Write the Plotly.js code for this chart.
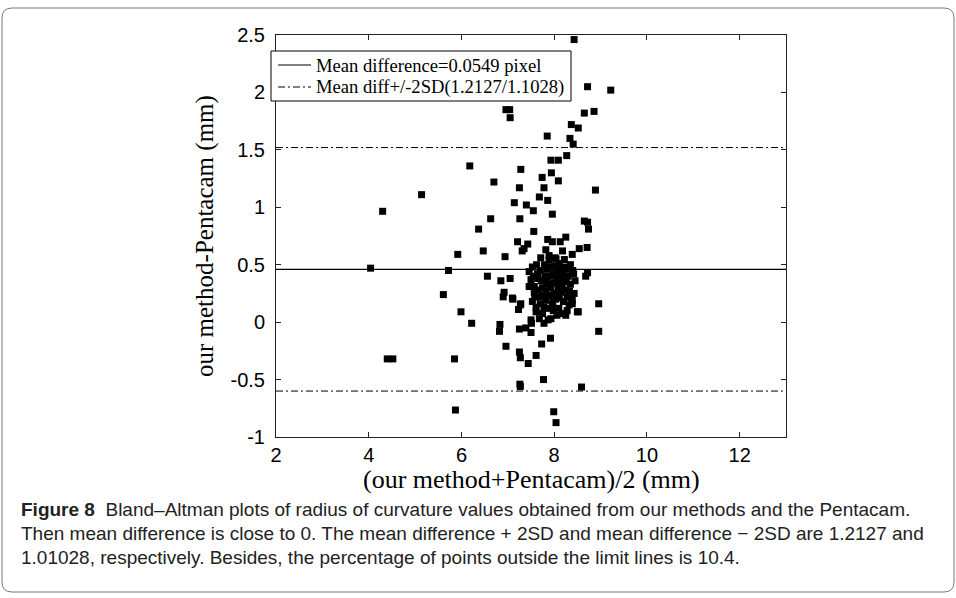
<!DOCTYPE html>
<html>
<head>
<meta charset="utf-8">
<script src="https://cdn.plot.ly/plotly-3.0.1.min.js"></script>
<style>
html,body{margin:0;padding:0;background:#fff;}
#chart{width:956px;height:598px;}
</style>
</head>
<body>
<div id="chart"></div>
<script>
// ---- data ----
const avgX = [
  8.43,8.72,9.22,6.96,7.04,7.05,8.65,8.86,8.37,8.52,7.85,8.34,8.41,
  8.27,7.93,8.09,6.18,7.28,7.94,7.74,6.70,8.09,7.25,7.78,8.89,5.14,7.68,7.86,7.14,7.40,7.55,4.30,7.96,6.63,7.26,8.65,8.72,
  6.37,8.74,7.56,7.21,7.86,7.96,8.13,8.25,7.43,7.35,7.31,5.92,6.47,6.94,8.71,8.54,8.39,8.18,7.82,7.71,7.89,8.04,8.22,
  4.04,5.72,5.61,6.56,6.85,7.05,8.68,8.72,
  6.92,6.90,7.11,7.27,7.23,5.99,6.22,6.83,6.82,7.25,6.96,7.25,7.27,7.44,7.61,7.73,7.92,7.26,7.27,7.77,8.59,5.85,4.40,4.52,5.87,7.99,8.04,8.96,8.96,
  7.50,7.51,7.39,7.50,7.68,7.87,7.78,7.93,8.18,8.25,8.52,8.43,8.39,7.10,7.28,
  7.53,7.46,7.64,7.50,7.57,7.46,7.57,7.53,7.61,7.61,7.75,7.78,7.82,7.96,7.89,8.11,8.32,8.39,8.50,7.89,8.11,7.89,8.02,
  7.70,7.80,7.85,7.92,7.98,8.05,8.08,8.15,8.20,8.25,8.30,8.35,8.40,7.75,7.68,7.95,8.00,8.15,8.28,7.72,
  7.62,8.05,8.22,8.35,7.82,7.98,8.10,8.20,8.12,7.65,7.55,8.33,8.45,8.42,7.90,7.70,8.00,7.84,8.28,8.06,
  7.76,7.88,8.03,8.17,8.26,7.66,7.94,8.10,8.36,7.79,8.02,8.19,7.58,8.30,7.97,8.13
];
const diffY = [
  2.46,2.05,2.02,1.85,1.85,1.78,1.82,1.835,1.72,1.69,1.62,1.60,1.55,
  1.45,1.41,1.41,1.36,1.33,1.30,1.26,1.22,1.23,1.17,1.17,1.15,1.11,1.09,1.06,1.04,1.02,0.97,0.965,0.94,0.90,0.90,0.88,0.87,
  0.81,0.81,0.79,0.70,0.72,0.70,0.70,0.74,0.68,0.64,0.62,0.59,0.62,0.57,0.65,0.64,0.59,0.62,0.63,0.56,0.58,0.55,0.545,
  0.47,0.45,0.24,0.40,0.36,0.38,0.40,0.43,
  0.26,0.22,0.20,0.15,0.11,0.09,-0.01,-0.02,-0.08,-0.06,-0.21,-0.26,-0.31,-0.36,-0.29,-0.19,-0.14,-0.54,-0.56,-0.50,-0.565,-0.32,-0.32,-0.32,-0.765,-0.78,-0.875,0.16,-0.08,
  0.02,-0.01,-0.05,-0.09,0.03,0.02,-0.01,0.03,0.075,0.06,0.09,0.25,0.16,0.21,0.16,
  0.48,0.44,0.42,0.37,0.31,0.31,0.26,0.18,0.13,0.09,0.075,0.13,0.19,0.15,0.235,0.21,0.15,0.19,0.09,0.48,0.51,0.54,0.56,
  0.45,0.40,0.35,0.30,0.42,0.38,0.30,0.45,0.35,0.28,0.40,0.33,0.45,0.30,0.22,0.48,0.25,0.26,0.22,0.36,
  0.50,0.45,0.48,0.50,0.27,0.10,0.12,0.18,0.40,0.38,0.40,0.27,0.36,0.42,0.12,0.16,0.34,0.46,0.10,0.06,
  0.23,0.33,0.20,0.31,0.38,0.28,0.40,0.24,0.21,0.50,0.49,0.43,0.22,0.46,0.18,0.35
];
const meanDiff = 0.46;
const upperLimit = 1.52;
const lowerLimit = -0.60;
const xRange = [2, 13];
const yRange = [-1, 2.5];
const xTicks = [2, 4, 6, 8, 10, 12];
const yTicks = [-1, -0.5, 0, 0.5, 1, 1.5, 2, 2.5];
const yTickText = ['-1', '-0.5', '0', '0.5', '1', '1.5', '2', '2.5'];
const legendNames = ['Mean difference=0.0549 pixel', 'Mean diff+/-2SD(1.2127/1.1028)'];
const xTitle = '(our method+Pentacam)/2 (mm)';
const yTitle = 'our method-Pentacam (mm)';
const captionLines = [
  '<b>Figure 8</b>  Bland–Altman plots of radius of curvature values obtained from our methods and the Pentacam.',
  'Then mean difference is close to 0. The mean difference + 2SD and mean difference − 2SD are 1.2127 and',
  '1.01028, respectively. Besides, the percentage of points outside the limit lines is 10.4.'
];

// ---- layout geometry (pixels) ----
const W = 956, H = 598;
const L = 276, R = 786, T = 35, B = 437;
const px = v => (v - L) / (R - L);
const py = v => (B - v) / (B - T);

const DASHDOT = '7px,3px,2px,3px';
const traces = [
  {x: xRange, y: [meanDiff, meanDiff], mode: 'lines', name: legendNames[0], showlegend: false,
   line: {color: '#000', width: 1.2}, hoverinfo: 'skip'},
  {x: xRange, y: [upperLimit, upperLimit], mode: 'lines', name: legendNames[1], showlegend: false,
   line: {color: '#000', width: 1, dash: DASHDOT}, hoverinfo: 'skip'},
  {x: xRange, y: [lowerLimit, lowerLimit], mode: 'lines', showlegend: false,
   line: {color: '#000', width: 1, dash: DASHDOT}, hoverinfo: 'skip'},
  {x: avgX, y: diffY, mode: 'markers', showlegend: false,
   marker: {symbol: 'square', size: 7, color: '#000'}}
];

// rounded figure border
const x0 = 2, x1 = 954, y0 = 8, y1 = 592, rr = 10;
const borderPath = `M ${px(x0+rr)} ${py(y0)} L ${px(x1-rr)} ${py(y0)} Q ${px(x1)} ${py(y0)} ${px(x1)} ${py(y0+rr)} ` +
  `L ${px(x1)} ${py(y1-rr)} Q ${px(x1)} ${py(y1)} ${px(x1-rr)} ${py(y1)} L ${px(x0+rr)} ${py(y1)} ` +
  `Q ${px(x0)} ${py(y1)} ${px(x0)} ${py(y1-rr)} L ${px(x0)} ${py(y0+rr)} Q ${px(x0)} ${py(y0)} ${px(x0+rr)} ${py(y0)} Z`;

// legend box (MATLAB-style), drawn with shapes + annotations
const legBox = {l: 271, r: 571, t: 51, b: 101};
const legRows = [65, 87];
const legSample = [278, 311];
const legTextX = 314;

const shapes = [
  {type: 'path', xref: 'paper', yref: 'paper', path: borderPath, line: {color: '#777', width: 1}, layer: 'below'},
  {type: 'rect', xref: 'paper', yref: 'paper', x0: px(legBox.l), x1: px(legBox.r), y0: py(legBox.b), y1: py(legBox.t),
   fillcolor: '#fff', line: {color: '#000', width: 1}, layer: 'above'},
  {type: 'line', xref: 'paper', yref: 'paper', x0: px(legSample[0]), x1: px(legSample[1]), y0: py(legRows[0]), y1: py(legRows[0]),
   line: {color: '#000', width: 1.2}, layer: 'above'},
  {type: 'line', xref: 'paper', yref: 'paper', x0: px(legSample[0]), x1: px(legSample[1]), y0: py(legRows[1]), y1: py(legRows[1]),
   line: {color: '#000', width: 1, dash: DASHDOT}, layer: 'above'}
];

const annotations = [
  {text: xTitle, xref: 'paper', yref: 'paper', x: 0.5, y: py(479), xanchor: 'center', yanchor: 'middle',
   showarrow: false, font: {family: 'Liberation Serif, Times New Roman, serif', size: 26, color: '#000'}},
  {text: yTitle, xref: 'paper', yref: 'paper', x: px(205), y: 0.5, xanchor: 'center', yanchor: 'middle',
   textangle: -90, showarrow: false, font: {family: 'Liberation Serif, Times New Roman, serif', size: 25, color: '#000'}}
];
legendNames.forEach((t, i) => {
  annotations.push({text: t, xref: 'paper', yref: 'paper', x: px(legTextX), y: py(legRows[i]),
    xanchor: 'left', yanchor: 'middle', align: 'left', showarrow: false,
    font: {family: 'Liberation Serif, Times New Roman, serif', size: 18.6, color: '#000'}});
});
captionLines.forEach((t, i) => {
  annotations.push({text: t, xref: 'paper', yref: 'paper', x: px(19), y: py(509 + i * 24),
    xanchor: 'left', yanchor: 'middle', align: 'left', showarrow: false,
    font: {family: 'Liberation Sans, Arial, sans-serif', size: 19, color: '#222'}});
});

const axisCommon = {
  showgrid: false, zeroline: false, showline: true, linecolor: '#222', linewidth: 1,
  mirror: 'ticks', ticks: 'inside', ticklen: 5, tickcolor: '#222', tickwidth: 1,
  tickfont: {family: 'Liberation Sans, Arial, sans-serif', size: 20, color: '#000'}
};

const layout = {
  width: W, height: H,
  margin: {l: L, r: W - R, t: T, b: H - B, pad: 0},
  paper_bgcolor: '#fff', plot_bgcolor: '#fff',
  showlegend: false,
  xaxis: Object.assign({}, axisCommon, {range: xRange, tickvals: xTicks, ticktext: xTicks.map(String), ticklabelstandoff: 0}),
  yaxis: Object.assign({}, axisCommon, {range: yRange, tickvals: yTicks, ticktext: yTickText, ticklabelstandoff: 6}),
  shapes: shapes,
  annotations: annotations
};

Plotly.newPlot('chart', traces, layout, {staticPlot: true, displayModeBar: false});
</script>
</body>
</html>
